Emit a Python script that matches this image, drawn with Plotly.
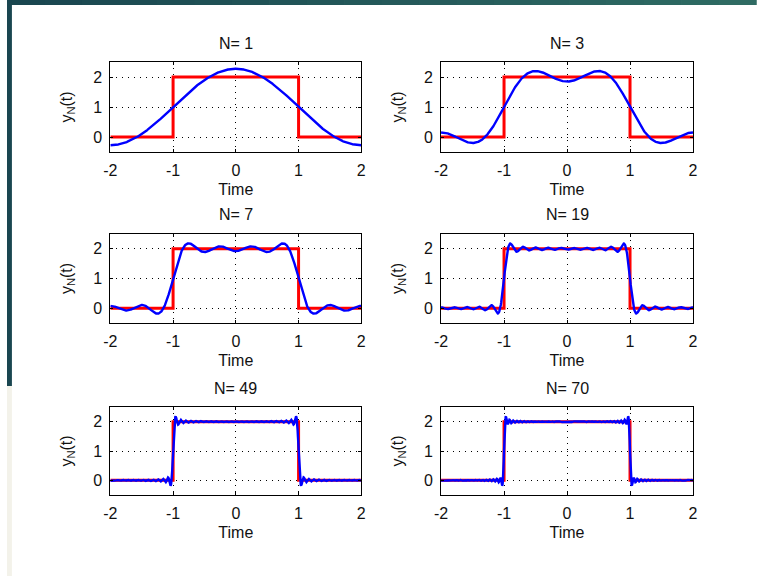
import numpy as np
import plotly.graph_objects as go

# ---- data ----
harmonics = [1, 3, 7, 19, 49, 70]          # N for each panel
pulse_t = [-2, -1, -1, 1, 1, 2]            # square pulse (red) breakpoints
pulse_y = [0, 0, 2, 2, 0, 0]
pulse_height = 2.0
pulse_halfwidth = 1.0
period = 4.0
x_ticks = [-2, -1, 0, 1, 2]
x_tick_labels = ["-2", "-1", "0", "1", "2"]
y_ticks = [0, 1, 2]
y_tick_labels = ["0", "1", "2"]

t = np.linspace(-2, 2, 801)
w0 = 2 * np.pi / period
a0 = pulse_height * 2 * pulse_halfwidth / period


def partial_sum(N):
    y = np.full_like(t, a0)
    for n in range(1, N + 1):
        an = 2 * pulse_height / (n * np.pi) * np.sin(n * w0 * pulse_halfwidth)
        y += an * np.cos(n * w0 * t)
    return y


W, H = 761, 576
col_px = [(105, 360), (441, 697)]
row_px = [(62, 152), (234, 323), (407, 495)]

fig = go.Figure()
font = "Liberation Sans, Arial, sans-serif"
txt = "#111"

for i, N in enumerate(harmonics):
    r, c = divmod(i, 2)
    k = i + 1
    xa = "x" if k == 1 else f"x{k}"
    ya = "y" if k == 1 else f"y{k}"
    fig.add_trace(go.Scatter(x=pulse_t, y=pulse_y, mode="lines",
                             line=dict(color="#ff0000", width=3),
                             xaxis=xa, yaxis=ya, showlegend=False, hoverinfo="skip"))
    fig.add_trace(go.Scatter(x=t, y=partial_sum(N), mode="lines",
                             line=dict(color="#0000ff", width=2.4),
                             xaxis=xa, yaxis=ya, showlegend=False, hoverinfo="skip"))
    x0, x1 = col_px[c]
    y0, y1 = row_px[r]
    common = dict(showgrid=True, gridcolor="black", griddash="1px,5px", gridwidth=1,
                  showline=True, linecolor="black", linewidth=1, mirror="ticks",
                  ticks="inside", ticklen=3, tickcolor="black", zeroline=False,
                  ticklabelstandoff=4,
                  tickfont=dict(family=font, size=16, color=txt))
    fig.layout[f"xaxis{'' if k == 1 else k}"] = dict(
        domain=[x0 / W, x1 / W], range=[-2, 2], tickvals=x_ticks, ticktext=x_tick_labels,
        anchor=ya, title=dict(text="Time", font=dict(family=font, size=16, color=txt), standoff=5),
        **common)
    fig.layout[f"yaxis{'' if k == 1 else k}"] = dict(
        domain=[1 - y1 / H, 1 - y0 / H], range=[-0.5, 2.5], tickvals=y_ticks, ticktext=y_tick_labels,
        anchor=xa, title=dict(text="y<sub>N</sub>(t)", font=dict(family=font, size=16, color=txt), standoff=16),
        **common)
    fig.add_annotation(text=f"N= {N}", x=(x0 + x1) / 2 / W, y=1 - (y0 - 19) / H,
                       xref="paper", yref="paper", showarrow=False,
                       xanchor="center", yanchor="middle",
                       font=dict(family=font, size=16, color=txt))

# slide frame decorations
shapes = []
nseg = 20
c_left = np.array([0x1a, 0x47, 0x50])
c_right = np.array([0x2f, 0x6b, 0x63])
for s in range(nseg):
    f = s / (nseg - 1)
    col = (c_left * (1 - f) + c_right * f).astype(int)
    shapes.append(dict(type="rect", xref="paper", yref="paper",
                       x0=s / nseg, x1=(s + 1) / nseg + 0.001, y0=1 - 5 / H, y1=1,
                       fillcolor="rgb(%d,%d,%d)" % tuple(col), line=dict(width=0), layer="below"))
shapes.append(dict(type="rect", xref="paper", yref="paper", x0=0, x1=5 / W,
                   y0=1 - 386 / H, y1=1, fillcolor="#1a4650", line=dict(width=0), layer="below"))
shapes.append(dict(type="rect", xref="paper", yref="paper", x0=0, x1=5 / W,
                   y0=0, y1=1 - 386 / H, fillcolor="#f3f2ea", line=dict(width=0), layer="below"))

fig.update_layout(width=W, height=H, margin=dict(l=0, r=0, t=0, b=0),
                  paper_bgcolor="white", plot_bgcolor="white", shapes=shapes)

fig.write_html("out.html", config={"displayModeBar": False},
               post_script="document.body.style.margin='0';document.body.style.overflow='hidden';")
